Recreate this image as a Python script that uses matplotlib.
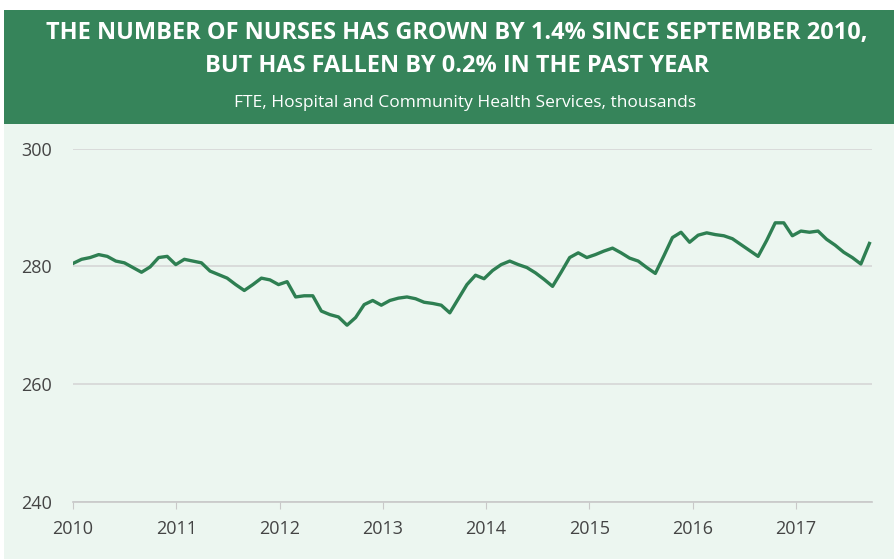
import numpy as np
import matplotlib
matplotlib.use("Agg")
import matplotlib.pyplot as plt
from matplotlib.patches import Rectangle

plt.rcParams['font.family'] = ['Open Sans', 'DejaVu Sans']

# monthly FTE nurses (thousands)
nurses = [280.5, 281.2, 281.5, 282.0, 281.7, 280.9, 280.6, 279.8, 279.0, 279.9,
          281.5, 281.7, 280.3, 281.2, 280.9, 280.6, 279.2, 278.6, 278.0, 276.9,
          275.9, 276.9, 278.0, 277.7, 276.9, 277.4, 274.8, 275.0, 275.0, 272.4,
          271.8, 271.4, 270.0, 271.3, 273.5, 274.2, 273.4, 274.2, 274.6, 274.8,
          274.5, 273.9, 273.7, 273.4, 272.1, 274.5, 276.9, 278.5, 277.9, 279.3,
          280.3, 280.9, 280.3, 279.8, 278.9, 277.8, 276.6, 279.0, 281.5, 282.3,
          281.5, 282.0, 282.6, 283.1, 282.3, 281.4, 280.9, 279.8, 278.8, 281.8,
          284.9, 285.8, 284.1, 285.3, 285.7, 285.4, 285.2, 284.7, 283.7, 282.7,
          281.7, 284.4, 287.4, 287.4, 285.2, 286.0, 285.8, 286.0, 284.6, 283.6,
          282.4, 281.5, 280.4, 283.9]
years = [2010, 2011, 2012, 2013, 2014, 2015, 2016, 2017]
y_ticks = [240, 260, 280, 300]

title = "THE NUMBER OF NURSES HAS GROWN BY 1.4% SINCE SEPTEMBER 2010,\nBUT HAS FALLEN BY 0.2% IN THE PAST YEAR"
subtitle = "FTE, Hospital and Community Health Services, thousands"

header_green = '#36845a'
line_green = '#2e7f52'
bg = '#ecf6f0'
text_grey = '#444444'

fig = plt.figure(figsize=(8.94, 5.59), dpi=100)
W, H = 894, 559
fig.patches.append(Rectangle((4 / W, 0), 1 - 4 / W, 1 - 124 / H, transform=fig.transFigure,
                             facecolor=bg, edgecolor='none', zorder=-10))
fig.patches.append(Rectangle((4 / W, 1 - 124 / H), 1 - 4 / W, 114 / H, transform=fig.transFigure,
                             facecolor=header_green, edgecolor='none', zorder=-10))

fig.text(0.511, 1 - 49.5 / H, title, ha='center', va='center', color='white',
         fontsize=16.9, fontweight='bold', linespacing=1.45)
fig.text(0.52, 1 - 103.5 / H, subtitle, ha='center', va='center', color='white', fontsize=12.5)

ax = fig.add_axes([73 / W, 1 - 501.7 / H, (872 - 73) / W, (501.7 - 148.7) / H])
ax.set_facecolor('none')

x = np.linspace(2010, 2017.71, len(nurses))
ax.plot(x, nurses, color=line_green, lw=2.4, solid_joinstyle='round', zorder=3)

ax.set_xlim(2010, 2017.735)
ax.set_ylim(240, 300)
ax.set_yticks(y_ticks)
ax.set_xticks(years)
ax.set_xticklabels([str(v) for v in years])
ax.grid(axis='y', color='#d6d6d6', lw=1.2)
for s in ['top', 'right', 'left']:
    ax.spines[s].set_visible(False)
ax.spines['bottom'].set_color('#c8c8c8')
ax.spines['bottom'].set_linewidth(1.2)
ax.tick_params(axis='y', length=0, pad=15, labelsize=13, labelcolor=text_grey)
ax.tick_params(axis='x', length=5, color='#c8c8c8', pad=8.5, labelsize=13, labelcolor=text_grey)

fig.savefig('out.png', dpi=100)
